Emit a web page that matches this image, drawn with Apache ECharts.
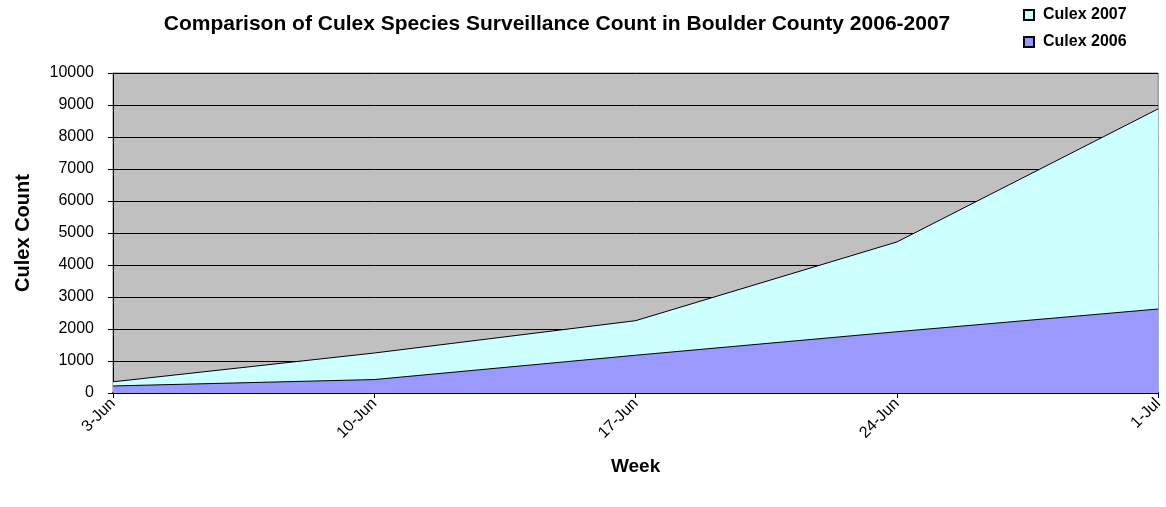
<!DOCTYPE html>
<html><head><meta charset="utf-8">
<script src="https://cdn.jsdelivr.net/npm/echarts@6/dist/echarts.min.js"></script>
<style>html,body{margin:0;padding:0;background:#fff}#c{width:1166px;height:507px}</style>
</head><body><div id="c"></div>
<script>
const categories = ['3-Jun','10-Jun','17-Jun','24-Jun','1-Jul'];
const culex2007 = [350, 1250, 2260, 4720, 8880];
const culex2006 = [220, 420, 1180, 1915, 2625];
const yTicks = [0,1000,2000,3000,4000,5000,6000,7000,8000,9000,10000];

const font = 'Liberation Sans, Arial, sans-serif';
const chart = echarts.init(document.getElementById('c'));
chart.setOption({
  animation: false,
  title: {
    text: 'Comparison of Culex Species Surveillance Count in Boulder County 2006-2007',
    left: 552, top: 9, textAlign: 'center',
    textStyle: {fontFamily: font, fontSize: 21, fontWeight: 'bold', color: '#000'}
  },
  legend: {
    orient: 'vertical', left: 1018, top: 2, itemGap: 11,
    itemWidth: 10, itemHeight: 10, icon: 'rect',
    textStyle: {fontFamily: font, fontSize: 16, fontWeight: 'bold', color: '#000', padding: [0,0,0,4]},
    data: ['Culex 2007', 'Culex 2006']
  },
  grid: {left: 113, right: 7, top: 73, bottom: 114, show: true, backgroundColor: '#C0C0C0', borderColor: '#808080', borderWidth: 1},
  xAxis: {
    type: 'category', data: categories, boundaryGap: false,
    name: 'Week', nameLocation: 'middle', nameGap: 64,
    nameTextStyle: {fontFamily: font, fontSize: 19, fontWeight: 'bold', color: '#000'},
    axisLine: {lineStyle: {color: '#000', width: 2}},
    axisTick: {show: true, length: 5, lineStyle: {color: '#000'}},
    axisLabel: {rotate: 45, fontFamily: font, fontSize: 16, color: '#000', margin: 8},
    splitLine: {show: false}
  },
  yAxis: {
    type: 'value', min: 0, max: 10000, interval: 1000,
    name: 'Culex Count', nameLocation: 'middle', nameGap: 80, nameRotate: 90,
    nameTextStyle: {fontFamily: font, fontSize: 20, fontWeight: 'bold', color: '#000'},
    axisLine: {show: true, lineStyle: {color: '#000'}},
    axisTick: {show: true, length: 5, lineStyle: {color: '#000'}},
    axisLabel: {fontFamily: font, fontSize: 16, color: '#000', margin: 19,
      formatter: v => yTicks.includes(v) ? String(v) : ''},
    splitLine: {show: true, lineStyle: {color: '#000', width: 1}}
  },
  series: [
    {name: 'Culex 2007', type: 'line', data: culex2007, symbol: 'none',
     lineStyle: {color: '#000', width: 1}, itemStyle: {color: '#CCFFFF', borderColor: '#000', borderWidth: 1},
     areaStyle: {color: '#CCFFFF', opacity: 1}, z: 2},
    {name: 'Culex 2006', type: 'line', data: culex2006, symbol: 'none',
     lineStyle: {color: '#000', width: 1}, itemStyle: {color: '#9999FF', borderColor: '#000', borderWidth: 1},
     areaStyle: {color: '#9999FF', opacity: 1}, z: 3}
  ]
});
</script></body></html>
